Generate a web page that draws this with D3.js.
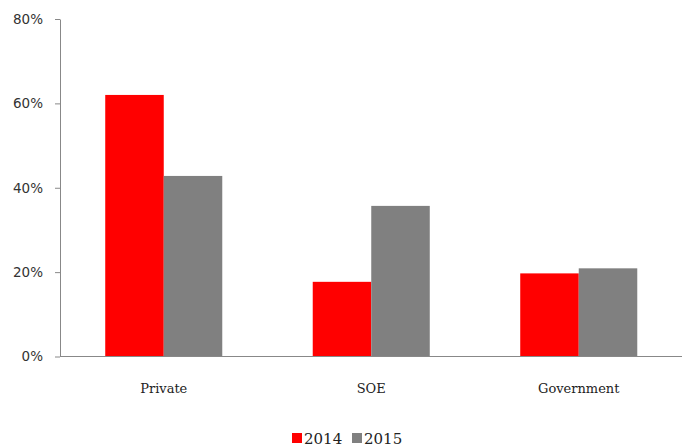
<!DOCTYPE html>
<html>
<head>
<meta charset="utf-8">
<script src="https://cdn.jsdelivr.net/npm/d3@7"></script>
<style>
  body { margin: 0; background: #fff; }
  .tick text { font-family: "DejaVu Sans", Verdana, sans-serif; font-size: 13.5px; fill: #333; }
  .cat-label, .legend-label { font-family: "DejaVu Serif", Georgia, serif; fill: #222; }
</style>
</head>
<body>
<div id="chart"></div>
<script>
var categories = ["Private", "SOE", "Government"];
var seriesNames = ["2014", "2015"];
var values2014 = [62, 17.7, 19.7];
var values2015 = [42.8, 35.7, 20.9];
var yTicks = [0, 20, 40, 60, 80];
var colors = ["#ff0000", "#808080"];

var svgWidth = 682;
var svgHeight = 447;
var margin = { top: 19, right: 0, bottom: 90, left: 60 };
var width = svgWidth - margin.left - margin.right;
var height = 356.5 - margin.top;

var svg = d3.select("#chart")
    .append("svg")
    .attr("width", svgWidth)
    .attr("height", svgHeight);

var chartGroup = svg.append("g")
    .attr("transform", `translate(${margin.left},${margin.top})`);

var data = categories.map(function(c, i) {
    return { category: c, values: [values2014[i], values2015[i]] };
});

var xScale = d3.scaleBand()
    .domain(categories)
    .range([0, width + 0.5])
    .paddingInner(0.436)
    .paddingOuter(0.218);

var xSub = d3.scaleBand()
    .domain(seriesNames)
    .range([0, xScale.bandwidth()]);

var yScale = d3.scaleLinear()
    .domain([0, 80])
    .range([height, 0]);

// bars
var groups = chartGroup.selectAll(".cat")
    .data(data)
    .enter()
    .append("g")
    .attr("transform", d => `translate(${xScale(d.category)},0)`);

groups.selectAll("rect")
    .data(d => d.values.map((v, i) => ({ key: seriesNames[i], value: v, i: i })))
    .enter()
    .append("rect")
    .attr("x", d => xSub(d.key))
    .attr("y", d => yScale(d.value))
    .attr("width", xSub.bandwidth())
    .attr("height", d => height - yScale(d.value))
    .attr("fill", d => colors[d.i]);

// y axis
var leftAxis = d3.axisLeft(yScale)
    .tickValues(yTicks)
    .tickFormat(d => d + "%")
    .tickSizeInner(5)
    .tickSizeOuter(0)
    .tickPadding(12);

var yAxis = chartGroup.append("g").call(leftAxis);
yAxis.select(".domain").attr("stroke", "#888");
yAxis.selectAll(".tick line").attr("stroke", "#888");

// x axis line
chartGroup.append("line")
    .attr("x1", 0)
    .attr("x2", width)
    .attr("y1", height)
    .attr("y2", height)
    .attr("stroke", "#888");

// category labels
chartGroup.selectAll(".cat-label")
    .data(categories)
    .enter()
    .append("text")
    .classed("cat-label", true)
    .attr("x", d => xScale(d) + xScale.bandwidth() / 2)
    .attr("y", height + 36)
    .attr("text-anchor", "middle")
    .style("font-size", "13px")
    .text(d => d);

// legend
var legend = svg.append("g")
    .attr("transform", "translate(292,432)");
var legendX = [0, 60];
seriesNames.forEach(function(name, i) {
    legend.append("rect")
        .attr("x", legendX[i])
        .attr("y", 1)
        .attr("width", 10)
        .attr("height", 10)
        .attr("fill", colors[i]);
    legend.append("text")
        .classed("legend-label", true)
        .attr("x", legendX[i] + 12)
        .attr("y", 12)
        .style("font-size", "15px")
        .text(name);
});
</script>
</body>
</html>
